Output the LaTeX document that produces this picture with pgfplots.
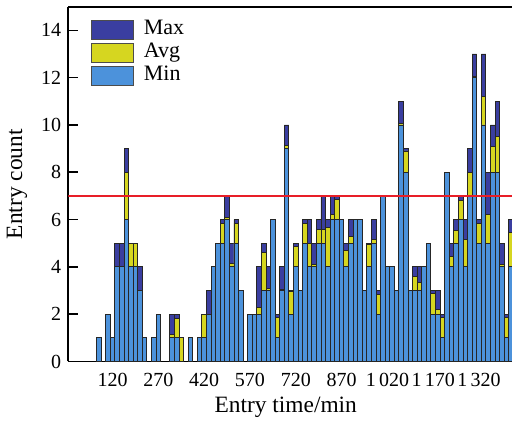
\documentclass[border=0pt]{standalone}
\usepackage{pgfplots}
\usepackage{pgfplotstable}
\pgfplotsset{compat=1.18}
\usepackage{fontspec}
\setmainfont{Liberation Serif}
\definecolor{maxc}{RGB}{58,62,160}
\definecolor{avgc}{RGB}{214,214,32}
\definecolor{minc}{RGB}{76,146,219}
\definecolor{redl}{RGB}{232,30,40}
\pgfplotstableread{
x mx av mn
75 1 1 1
105 2 2 2
120 1 1 1
135 5 4 4
150 5 4 4
165 9 8 6
180 5 5 4
195 5 5 4
210 4 3 3
225 1 1 1
255 1 1 1
270 2 2 2
315 2 1.15 1
330 2 1.8 1
345 1 1 0
375 1 1 1
405 1 1 1
420 2 2 1
435 3 2 2
450 4 4 4
465 5 5 5
480 6 5.85 5
495 7 6.1 6
510 5 4.15 4
525 6 5.85 5
540 3 3 3
570 2 2 2
585 2 2 2
600 4 2.3 2
615 5 4.6 3
630 4 3.1 3
645 6 6 6
660 2 1.85 1
675 4 3.05 3
690 10 9.15 9
705 3 2.95 2
720 5 4.85 4
735 3 3 3
750 6 5.85 5
765 6 5 4
780 5 4.1 4
795 6 5.6 5
810 7 5.6 5
825 6 5.65 4
840 7 6.2 6
855 7 6.85 6
870 6 6 6
885 5 4.7 4
900 6 5.3 5
915 6 6 6
930 6 6 6
945 3 3 3
960 5 4.95 4
975 6 5.15 5
990 3 2.85 2
1005 7 7 7
1020 4 4 4
1035 4 4 4
1050 3 3 3
1065 11 10.05 10
1080 9 8.9 8
1095 3 3 3
1110 4 3.6 3
1125 4 3.35 3
1140 4 4 4
1155 5 5 5
1170 3 2.88 2
1185 3 2.2 2
1200 2 1.85 1
1215 8 8 8
1230 5 4.45 4
1245 6 5.55 5
1260 7 6.8 6
1275 6 5.15 4
1290 9 8 7
1305 13 12.05 12
1320 6 5.85 5
1335 13 11.2 10
1350 8 6.2 5
1365 10 9.1 8
1380 11 9.5 8
1395 5 4.1 4
1410 2 1.85 1
1425 6 5.45 4
}\data
\begin{document}
\begin{tikzpicture}
\begin{axis}[
  name=ax,
  scale only axis,
  width=221.85pt, height=177.4pt,
  xmin=-25, xmax=1428, ymin=0, ymax=15,
  axis y line*=left,
  axis line style={line width=0.9pt},
  every tick/.style={line width=0.8pt, black},
  major tick length=5pt,
  tick align=inside,
  xtick pos=bottom, ytick pos=left,
  xtick={120,270,420,570,720,870,1020,1170,1320},
  xticklabels={120,270,420,570,720,870,1\,020,1\,170,1\,320},
  ytick={0,2,...,14},
  /pgf/number format/assume math mode=true,
  tick label style={font=\fontsize{10}{12}\selectfont},
  xticklabel style={yshift=-2.2pt},
  xlabel={Entry time/min},
  ylabel={Entry count},
  label style={font=\fontsize{11.7}{14}\selectfont},
  xlabel style={at={(axis description cs:0.49,0)}, anchor=center, yshift=-22.75pt},
  ylabel style={at={(axis description cs:-0.1154,0.5)}, anchor=center},
  legend style={draw=none, fill=none, at={(0,1)}, anchor=north west,
    xshift=11.2pt, yshift=-6.4pt, inner sep=0pt, row sep=1.3pt,
    font=\fontsize{11}{13}\selectfont, legend cell align=left,
    nodes={inner sep=0pt}, column sep=5pt},
  legend image code/.code={\draw[#1, draw=black!70, line width=0.4pt] (0pt,-5.4pt) rectangle (21pt,4.4pt);},
]
\addplot[ybar, bar width=15, bar shift=0pt, fill=maxc, draw=black!85, line width=0.45pt] table[x=x,y=mx] {\data};
\addlegendentry{Max}
\addplot[ybar, bar width=15, bar shift=0pt, fill=avgc, draw=black!85, line width=0.45pt] table[x=x,y=av] {\data};
\addlegendentry{Avg}
\addplot[ybar, bar width=15, bar shift=0pt, fill=minc, draw=black!85, line width=0.45pt] table[x=x,y=mn] {\data};
\addlegendentry{Min}
\addplot[redl, line width=1.1pt, forget plot] coordinates {(-25,7) (1428,7)};
\end{axis}
\pgfresetboundingbox
\path[use as bounding box] ([shift={(-34.15pt,-29.75pt)}]ax.south west) rectangle ([shift={(0pt,3.35pt)}]ax.north east);
\end{tikzpicture}
\end{document}
